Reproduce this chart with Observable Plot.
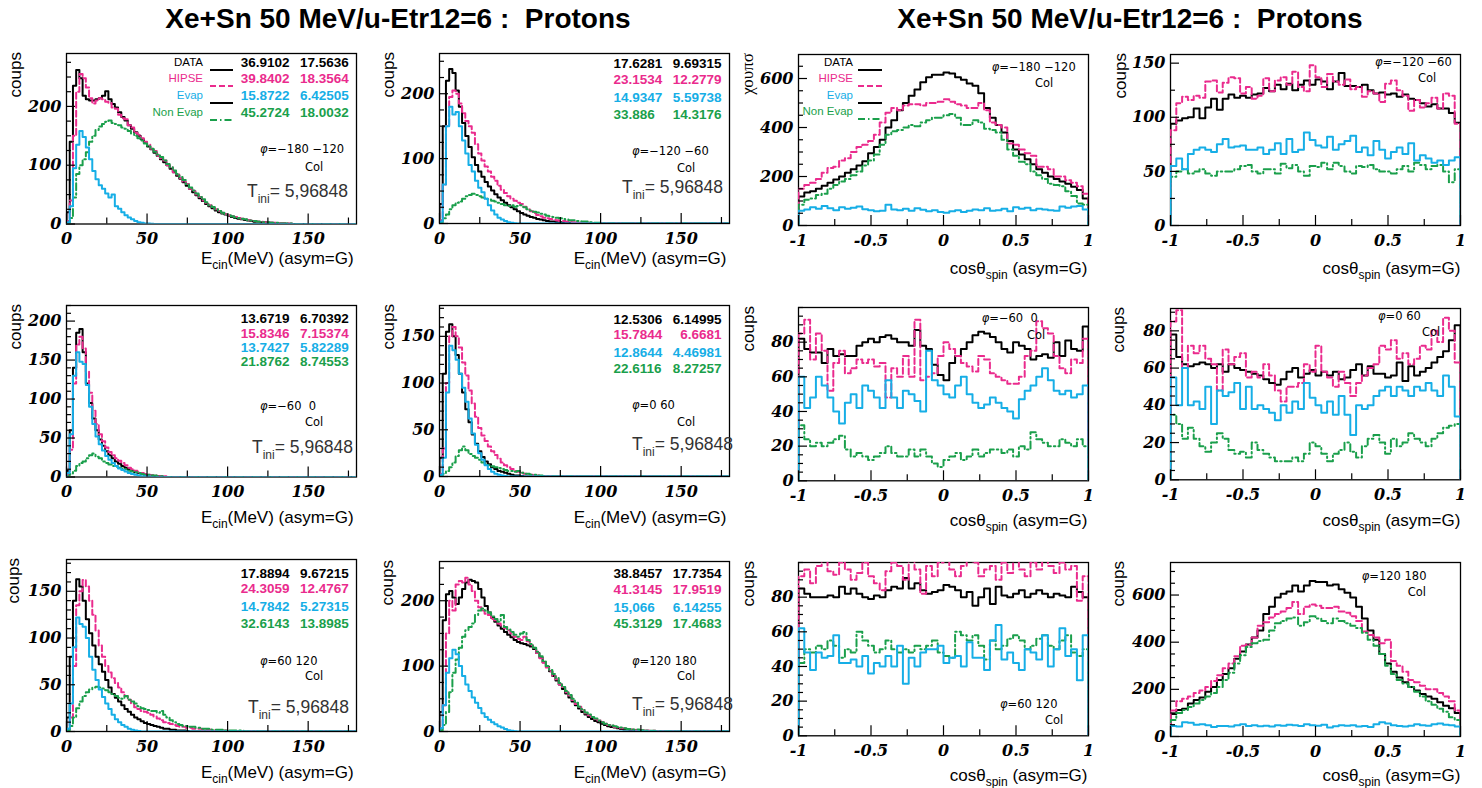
<!DOCTYPE html>
<html><head><meta charset="utf-8">
<script src="https://cdn.jsdelivr.net/npm/d3@7"></script>
<script src="https://cdn.jsdelivr.net/npm/@observablehq/plot@0.6"></script>
<style>
body{margin:0;background:#fff;}
#page{position:relative;width:1482px;height:788px;overflow:hidden;background:#fff;}
.abs{position:absolute;white-space:pre;line-height:1;}
svg{overflow:visible;}
</style></head><body><div id="page"></div>
<script>
// ---------------- DATA ----------------
const titleText = "Xe+Sn 50 MeV/u-Etr12=6 :  Protons";
const seriesNames = ["DATA", "HIPSE", "Evap", "Non Evap"];
const phiLabels = ["−180 −120", "−120 −60", "−60  0", "0 60", "60 120", "120 180"];
const tiniValue = "5,96848";
const energyTickLabels = [0, 50, 100, 150];
const cosTickLabels = [-1, -0.5, 0, 0.5, 1];
const eBinWidth = 2, eBinCount = 90;      // MeV bins 0..180
const cosBinWidth = 0.04, cosBinCount = 50; // -1..1

// Energy spectra (2 MeV bins starting at 0)
const p1Data = [20,140,235,262,248,218,212,210,210,212,214,218,226,212,204,198,190,182,176,168,162,156,150,144,138,132,127,121,116,110,105,100,94,88,82,77,71,65,60,54,49,44,39,34,30,27,23,20,18,16,14,12,10,9,8,7,6,5,4,4,3,3,2,2,1,1,1,1,0.5,0.5];
const p1Hipse = [5,40,150,225,255,248,232,214,205,210,214,212,208,206,198,196,186,180,178,168,164,155,152,146,140,135,128,124,116,112,108,100,96,88,84,78,72,68,60,56,50,46,40,36,32,28,25,22,19,17,15,13,12,10,9,8,7,6,5,4,4,3,3,2,2,1,1,1,1,0.5];
const p1Evap = [3,30,95,135,158,148,130,110,90,76,66,60,52,45,50,30,26,20,15,11,8,5,3,2,1,1,0.5];
const p1NonEvap = [1,10,45,85,100,110,122,140,150,160,166,170,174,176,172,170,168,164,162,158,154,150,146,142,137,133,128,123,118,114,108,102,97,91,85,80,75,68,62,57,52,46,42,37,32,29,25,22,19,17,15,13,11,10,9,8,7,6,5,4,4,3,3,2,2,2,1,1,1,1];

const p2Data = [30,150,220,238,232,205,180,155,135,118,102,90,80,72,64,57,51,45,40,36,32,28,25,22,19,16,14,12,10,9,7,6,5,4,3,3,2,2,1,1,1,0.5];
const p2Hipse = [5,60,150,195,205,200,185,170,158,150,140,122,108,97,88,80,72,66,58,52,47,42,38,35,32,30,26,22,19,16,13,11,9,8,7,6,5,4,4,3,3,2,2,1,1,1,1,0.5];
const p2Evap = [3,60,150,180,168,172,150,128,108,90,80,66,55,48,38,28,20,14,9,6,4,2,1,0.5];
const p2NonEvap = [2,8,14,22,28,32,34,38,42,44,46,44,42,40,38,37,35,34,32,30,28,27,28,26,27,28,25,22,20,18,17,15,14,12,11,10,9,8,7,6,5,5,4,4,3,3,2,2,1,1];

const p5Data = [8,60,140,185,190,160,120,95,75,60,48,40,33,28,24,20,17,14,12,10,8,6,5,4,3,2,2,1,1,0.5];
const p5Hipse = [3,35,120,170,180,165,135,108,85,68,55,46,38,32,28,24,21,18,15,12,10,8,6,5,4,3,2,2,1,1,1];
const p5Evap = [5,55,130,160,148,145,118,90,68,52,42,34,27,22,18,14,11,9,7,5,4,3,2,1,1,0.5];
const p5NonEvap = [1,4,8,14,18,20,24,28,30,26,24,20,18,16,14,13,12,11,10,8,7,6,5,4,3,3,2,2,1,1];

const p6Data = [20,110,155,163,150,130,110,90,72,58,45,35,27,21,16,13,10,8,6,5,4,3,2,1,1,0.5];
const p6Hipse = [3,30,100,150,160,150,138,122,108,92,78,64,52,44,38,32,27,23,19,15,12,10,8,6,5,4,3,2,2,1,1];
const p6Evap = [2,20,90,140,135,125,110,95,80,62,46,34,25,18,12,8,5,3,2,1,0.5];
const p6NonEvap = [1,3,6,10,15,22,28,32,28,24,22,20,18,15,13,12,11,10,9,8,7,6,6,5,6,4,3,3,2,2,1,1];

const p9Data = [15,80,140,163,155,140,120,105,92,80,72,64,55,47,40,36,32,28,24,21,18,15,13,11,9,8,7,6,5,4,3,3,2,2,1,1,1,0.5];
const p9Hipse = [2,15,70,135,150,162,155,140,125,108,92,80,70,63,57,52,47,42,38,34,30,26,24,22,21,20,18,16,14,12,10,9,8,7,6,5,5,4,4,3,3,3,2,2,2,1,1,1,1,1];
const p9Evap = [3,30,90,122,115,112,100,80,66,55,45,37,30,24,18,13,10,7,5,3,2,1,0.5];
const p9NonEvap = [1,6,15,25,32,38,42,45,47,48,47,46,44,42,40,38,36,35,38,34,32,30,27,25,24,23,22,22,20,22,18,15,12,10,8,7,6,6,5,5,4,4,3,3,3,2,2,2,2,1,1,1,1,1,1];

const p10Data = [30,170,210,215,205,195,205,218,228,232,230,228,218,205,192,182,174,168,162,157,152,148,144,140,137,135,134,132,130,126,120,113,106,99,92,85,78,72,65,58,52,46,40,35,30,26,22,19,16,14,12,10,8,7,6,5,4,3,3,2,2,1,1,1,1,0.5];
const p10Hipse = [5,40,150,200,185,225,230,228,235,225,215,200,190,185,180,178,172,170,165,162,158,155,150,145,142,140,145,138,132,128,120,112,105,98,92,85,80,72,68,60,55,48,42,38,33,28,25,22,19,17,14,12,10,9,7,6,5,5,4,3,3,2,2,1,1,1,1];
const p10Evap = [5,40,90,112,125,118,100,85,72,62,52,44,36,28,22,18,14,11,8,6,4,2,1,0.5];
const p10NonEvap = [2,10,30,60,90,110,128,145,155,160,165,178,185,188,185,182,176,172,168,178,160,156,152,148,145,150,152,140,134,128,122,115,108,100,94,88,82,74,68,62,56,50,44,38,34,29,26,22,20,17,14,12,10,9,8,7,6,5,4,4,3,3,2,2,1,1,1];

// cos(theta_spin) spectra (50 bins of 0.04 from -1)
const p3Data = [118,135,140,150,162,175,188,200,215,230,245,262,295,320,350,400,430,470,500,530,555,585,605,615,615,625,620,605,595,580,570,540,480,440,410,380,345,310,290,270,250,230,215,200,190,180,170,158,145,110];
const p3Hipse = [150,165,175,190,215,235,240,265,275,300,320,330,345,370,420,460,480,470,490,495,495,490,500,500,505,515,505,495,490,480,480,500,470,420,410,400,335,330,310,295,285,240,240,230,200,200,185,175,160,130];
const p3Evap = [60,65,75,68,80,70,62,75,68,72,78,66,62,58,60,85,65,62,68,60,70,64,58,62,55,52,58,62,55,60,65,62,70,60,62,68,58,75,68,72,62,68,65,62,60,78,72,78,80,65];
const p3NonEvap = [85,105,110,125,130,150,165,180,190,205,220,245,265,290,330,370,385,390,400,410,405,420,430,440,440,450,455,440,410,410,430,420,395,390,380,350,310,285,260,250,220,205,190,170,165,160,140,120,90,85];

const p4Data = [94,97,99,100,108,99,109,117,107,117,121,118,120,118,121,122,127,124,130,126,131,125,130,134,130,135,133,126,133,141,129,129,128,130,125,122,123,121,122,119,121,117,116,113,110,112,108,108,104,95];
const p4Hipse = [88,113,119,116,120,118,133,134,123,132,137,136,122,128,117,120,136,124,134,137,130,142,128,124,148,137,128,140,133,130,135,126,128,119,124,122,114,131,134,125,120,106,116,109,113,118,108,122,120,94];
const p4Evap = [55,62,52,66,70,72,70,68,75,80,72,73,74,70,70,72,66,70,76,66,80,68,70,86,79,74,72,82,70,75,78,83,68,72,65,78,70,62,68,72,66,76,60,65,62,58,60,56,60,63];
const p4NonEvap = [45,50,52,48,50,52,48,46,50,50,50,52,55,56,50,48,52,52,48,57,53,56,50,46,55,54,58,52,58,55,50,48,55,54,56,52,50,50,48,52,55,50,58,56,52,55,56,50,40,52];

const p7Data = [82,76,74,74,68,76,72,73,72,72,78,80,82,80,83,84,82,80,80,78,87,78,76,67,61,58,68,72,76,80,84,86,85,83,80,76,74,80,78,76,70,72,73,71,80,72,81,76,75,89];
const p7Hipse = [85,93,70,85,75,52,68,75,62,65,70,68,70,66,68,48,65,60,72,60,93,58,60,62,72,80,76,72,68,66,63,72,70,62,60,58,56,56,60,72,75,92,88,85,72,65,62,70,68,82];
const p7Evap = [60,42,48,60,55,48,40,33,45,50,42,55,52,48,42,58,48,42,52,50,46,40,75,58,55,50,48,55,60,50,45,42,44,48,45,42,40,36,47,52,55,60,65,58,52,50,52,48,50,55];
const p7NonEvap = [32,24,20,22,20,22,24,26,18,14,16,14,12,14,16,20,16,14,14,18,14,18,14,10,8,12,14,16,12,14,18,14,16,18,18,16,18,14,20,18,28,24,22,20,20,24,22,20,24,20];

const p8Data = [78,66,62,61,62,63,62,60,62,58,62,60,59,58,57,56,54,52,51,54,58,60,55,57,59,56,58,56,58,54,55,59,62,56,61,57,57,55,56,63,53,61,56,58,60,63,66,69,75,83];
const p8Hipse = [85,91,60,72,68,72,65,62,48,70,62,66,68,55,58,55,62,56,48,42,50,50,52,62,58,72,58,55,50,58,52,45,52,56,60,62,72,70,75,65,68,62,65,72,70,80,74,87,80,63];
const p8Evap = [55,40,60,40,42,38,50,30,48,45,47,52,38,50,38,40,38,36,32,40,36,42,38,52,44,40,36,42,35,45,35,24,40,38,40,45,48,50,45,50,48,45,50,48,52,48,45,56,50,34];
const p8NonEvap = [35,30,22,28,22,18,15,20,25,22,16,14,15,12,20,16,14,12,10,10,10,12,10,14,20,18,14,10,14,16,20,15,12,18,22,24,20,14,22,18,20,25,22,20,18,22,25,28,29,30];

const p11Data = [85,82,80,80,80,81,80,86,82,85,82,80,79,81,80,84,86,85,91,85,88,84,82,83,84,87,86,84,80,83,75,80,85,76,86,81,80,82,84,80,82,84,82,80,82,81,80,86,83,80];
const p11Hipse = [92,96,88,98,102,95,93,100,96,90,94,100,92,88,84,95,100,98,90,103,96,82,98,92,100,104,96,92,98,102,100,92,96,98,90,100,94,102,96,92,100,96,104,98,94,100,96,98,78,92];
const p11Evap = [62,48,38,48,45,46,58,42,42,44,40,46,36,42,40,46,40,52,30,45,40,48,50,50,52,42,45,46,40,54,45,45,38,55,64,44,48,42,38,50,48,44,58,40,50,62,46,50,32,58];
const p11NonEvap = [42,50,48,52,50,55,52,45,50,48,60,55,52,48,50,55,50,48,50,48,52,50,52,55,48,46,45,60,58,55,58,52,44,55,50,52,56,58,55,50,52,56,58,52,50,55,58,48,46,50];

const p12Data = [95,112,118,140,155,165,190,210,240,265,290,330,360,390,420,450,520,550,590,605,615,640,615,640,660,655,655,640,645,625,610,590,550,500,450,410,350,310,275,250,230,210,195,180,170,160,145,130,120,100];
const p12Hipse = [110,150,160,170,185,195,210,235,260,290,310,340,385,390,420,470,485,505,520,530,545,570,520,550,560,555,545,545,550,530,525,510,490,445,430,420,395,410,320,300,275,240,230,215,200,200,185,170,150,110];
const p12Evap = [45,42,60,58,50,52,48,40,45,45,42,48,52,45,48,44,46,42,48,46,50,48,45,52,48,46,50,38,44,48,46,48,42,45,40,52,60,55,48,45,42,46,52,48,46,52,55,50,48,42];
const p12NonEvap = [70,100,112,125,140,155,170,185,210,240,270,310,345,380,395,405,410,450,480,490,500,505,470,485,510,500,490,480,500,490,480,470,460,440,410,385,350,300,265,240,225,210,190,170,150,135,118,105,82,70];

// statistics printed in the energy panels (mean, rms) per series
const p1Stats = [["36.9102","17.5636"],["39.8402","18.3564"],["15.8722","6.42505"],["45.2724","18.0032"]];
const p2Stats = [["17.6281","9.69315"],["23.1534","12.2779"],["14.9347","5.59738"],["33.886","14.3176"]];
const p5Stats = [["13.6719","6.70392"],["15.8346","7.15374"],["13.7427","5.82289"],["21.8762","8.74553"]];
const p6Stats = [["12.5306","6.14995"],["15.7844","6.6681"],["12.8644","4.46981"],["22.6116","8.27257"]];
const p9Stats = [["17.8894","9.67215"],["24.3059","12.4767"],["14.7842","5.27315"],["32.6143","13.8985"]];
const p10Stats = [["38.8457","17.7354"],["41.3145","17.9519"],["15,066","6.14255"],["45.3129","17.4683"]];

// y-axis labelled ticks per panel
const yTicks1 = [0,100,200], yTicks2 = [0,100,200], yTicks3 = [0,200,400,600], yTicks4 = [0,50,100,150];
const yTicks5 = [0,50,100,150,200], yTicks6 = [0,50,100,150], yTicks7 = [0,20,40,60,80], yTicks8 = [0,20,40,60,80];
const yTicks9 = [0,50,100,150], yTicks10 = [0,100,200], yTicks11 = [0,20,40,60,80], yTicks12 = [0,200,400,600];

// ---------------- STYLE / LAYOUT ----------------
const seriesStyles = [
  {color:"#000000", dash:null},
  {color:"#ea2b8d", dash:"6,3"},
  {color:"#16aee6", dash:null},
  {color:"#1a9f4b", dash:"7,3,1.5,3"}
];
const drawOrder = [0, 1, 3, 2];
const SANS = '"Liberation Sans", Arial, Helvetica, sans-serif';
const VERA = '"DejaVu Sans", sans-serif';
const TICKFONT = '"DejaVu Serif", serif';

const L = [65.7, 438.5, 797.5, 1170.3];
const panels = [
  {kind:"E", left:L[0], top:52.5, bottom:223, ymax:290, yT:yTicks1, yMinor:25, series:[p1Data,p1Hipse,p1Evap,p1NonEvap], stats:p1Stats, rows:[63.3,79.3,96,112.7], phi:[260,150], col:[305,167.7], tini:[247,191.7], ylab:"coups", ylx:15, xty:258, legend:{right:203, s0:210, s1:233}},
  {kind:"E", left:L[1], top:53, bottom:223, ymax:262, yT:yTicks2, yMinor:25, series:[p2Data,p2Hipse,p2Evap,p2NonEvap], stats:p2Stats, rows:[64,80,98,115], phi:[632,151.5], col:[677,168.5], tini:[622,188], ylab:"coups", ylx:388, xty:258},
  {kind:"C", left:L[2], top:54, bottom:225, ymax:698, yT:yTicks3, yMinor:50, series:[p3Data,p3Hipse,p3Evap,p3NonEvap], phi:[991.7,68.3], col:[1035,84], ylab:"χουπσ", ylx:747, xty:268, legend:{right:853, s0:858, s1:882, rows:[63.3,79.3,96,111.7]}},
  {kind:"C", left:L[3], top:54, bottom:225, ymax:158, yT:yTicks4, yMinor:25, series:[p4Data,p4Hipse,p4Evap,p4NonEvap], phi:[1375,63.3], col:[1418,79.3], ylab:"coups", ylx:1120, xty:268},
  {kind:"E", left:L[0], top:304.5, bottom:476, ymax:220, yT:yTicks5, yMinor:10, series:[p5Data,p5Hipse,p5Evap,p5NonEvap], stats:p5Stats, rows:[319,334,348,362], phi:[260,406.7], col:[305,422.7], tini:[252,448], ylab:"coups", ylx:15, xty:516.7},
  {kind:"E", left:L[1], top:305, bottom:476, ymax:183, yT:yTicks6, yMinor:10, series:[p6Data,p6Hipse,p6Evap,p6NonEvap], stats:p6Stats, rows:[320,335,352.7,369], phi:[632,406], col:[677,422.7], tini:[632,445], ylab:"coups", ylx:388, xty:516.7},
  {kind:"C", left:L[2], top:306.7, bottom:480, ymax:100, yT:yTicks7, yMinor:5, series:[p7Data,p7Hipse,p7Evap,p7NonEvap], phi:[981.7,319.3], col:[1027,335.7], ylab:"coups", ylx:748, xty:520},
  {kind:"C", left:L[3], top:308, bottom:479.3, ymax:92, yT:yTicks8, yMinor:5, series:[p8Data,p8Hipse,p8Evap,p8NonEvap], phi:[1378,316.7], col:[1422,333.3], ylab:"coups", ylx:1118, xty:520},
  {kind:"E", left:L[0], top:559, bottom:731, ymax:184, yT:yTicks9, yMinor:10, series:[p9Data,p9Hipse,p9Evap,p9NonEvap], stats:p9Stats, rows:[574.3,589,606.7,624.3], phi:[260,661.7], col:[305,676.7], tini:[248,708], ylab:"coups", ylx:13, xty:771.7},
  {kind:"E", left:L[1], top:561, bottom:731, ymax:260, yT:yTicks10, yMinor:25, series:[p10Data,p10Hipse,p10Evap,p10NonEvap], stats:p10Stats, rows:[574.3,590,607.7,624], phi:[632,661.7], col:[677,676.7], tini:[632,705], ylab:"coups", ylx:387, xty:771.7},
  {kind:"C", left:L[2], top:561.7, bottom:735, ymax:100, yT:yTicks11, yMinor:5, series:[p11Data,p11Hipse,p11Evap,p11NonEvap], phi:[1000,705], col:[1045,720.7], ylab:"coups", ylx:748, xty:775},
  {kind:"C", left:L[3], top:561.7, bottom:735.7, ymax:738, yT:yTicks12, yMinor:50, series:[p12Data,p12Hipse,p12Evap,p12NonEvap], phi:[1361.7,576.7], col:[1407.7,593.3], ylab:"coups", ylx:1118, xty:775}
];
const phiIndexOfPanel = [0,1,0,1,2,3,2,3,4,5,4,5];

const page = document.getElementById("page");

function addText(html, x, y, o = {}) {
  const d = document.createElement("div");
  d.className = "abs";
  d.innerHTML = html;
  Object.assign(d.style, {
    left: x + "px", top: y + "px",
    fontSize: (o.size || 12) + "px",
    fontFamily: o.family || SANS,
    fontWeight: o.weight || "normal",
    fontStyle: o.style || "normal",
    color: o.color || "#000",
    transformOrigin: "0 0"
  });
  const a = o.anchor || "start";
  const tx = a === "start" ? "0" : a === "end" ? "-100%" : "-50%";
  d.style.transform = o.rotate ? "rotate(-90deg) translate(-100%,-50%)" : `translate(${tx},-50%)`;
  page.appendChild(d);
  return d;
}

function histPoints(vals, x0, w, n) {
  const pts = [{x: x0, y: 0}];
  for (let i = 0; i < n; i++) pts.push({x: x0 + i * w, y: i < vals.length ? vals[i] : 0});
  const last = n - 1 < vals.length ? vals[n - 1] : 0;
  pts.push({x: x0 + n * w, y: last});
  pts.push({x: x0 + n * w, y: 0});
  return pts;
}

function minorTicks(step, lo, hi, majors) {
  return d3.range(lo, hi + 1e-9, step).map(v => +v.toFixed(6)).filter(v => !majors.some(m => Math.abs(m - v) < 1e-9));
}

function buildPanel(p, idx) {
  const W = 290, H = p.bottom - p.top;
  const ml = 60, mr = 8, mt = 8, mb = 32;
  const isE = p.kind === "E";
  const x0 = isE ? 0 : -1;
  const bw = isE ? eBinWidth : cosBinWidth;
  const nb = isE ? eBinCount : cosBinCount;
  const xDomain = isE ? [0, 180] : [-1, 1];
  const xMaj = isE ? energyTickLabels : cosTickLabels;
  const xMin = isE ? [25, 75, 125, 175] : [-0.75, -0.25, 0.25, 0.75];
  const yMin = minorTicks(p.yMinor, 0, p.ymax, p.yT);

  const marks = [Plot.frame({stroke: "#000", strokeWidth: 1.3})];
  for (const k of drawOrder) {
    marks.push(Plot.line(histPoints(p.series[k], x0, bw, nb), {
      x: "x", y: "y", curve: "step-after",
      stroke: seriesStyles[k].color, strokeWidth: 2,
      strokeDasharray: seriesStyles[k].dash, clip: true
    }));
  }
  marks.push(
    Plot.tickX(xMaj, {x: d => d, insetTop: H - 10, stroke: "#000", strokeWidth: 1.2}),
    Plot.tickX(xMin, {x: d => d, insetTop: H - 6, stroke: "#000", strokeWidth: 1.2}),
    Plot.tickY(p.yT, {y: d => d, insetRight: W - 9, stroke: "#000", strokeWidth: 1.2}),
    Plot.tickY(yMin, {y: d => d, insetRight: W - 5, stroke: "#000", strokeWidth: 1.2}),
    Plot.axisX({ticks: xMaj, tickSize: 0, tickPadding: 9, label: null, tickFormat: d => String(d)}),
    Plot.axisY({ticks: p.yT, tickSize: 0, tickPadding: 5, label: null, tickFormat: d => String(d)})
  );
  const svg = Plot.plot({
    width: W + ml + mr, height: H + mt + mb,
    marginLeft: ml, marginRight: mr, marginTop: mt, marginBottom: mb,
    x: {domain: xDomain}, y: {domain: [0, p.ymax]},
    style: {background: "transparent", fontFamily: TICKFONT, fontSize: "16px", fontWeight: "bold", fontStyle: "italic", color: "#000", overflow: "visible"},
    marks
  });
  svg.style.position = "absolute";
  svg.style.left = (p.left - ml) + "px";
  svg.style.top = (p.top - mt) + "px";
  page.appendChild(svg);

  const right = p.left + W;
  // axis titles
  if (isE) {
    addText('E<span style="font-size:12px;position:relative;top:5px">cin</span>(MeV) (asym=G)', right - 2, p.xty, {anchor: "end", size: 17});
  } else {
    addText('cosθ<span style="font-size:12px;position:relative;top:5px">spin</span> (asym=G)', right, p.xty, {anchor: "end", size: 17});
  }
  addText(p.ylab, p.ylx, p.top - 1, {rotate: true, size: 17, family: p.ylab === "coups" ? SANS : '"Liberation Serif", serif'});

  // phi / Col annotations
  addText('<i>φ</i>=' + phiLabels[phiIndexOfPanel[idx]], p.phi[0], p.phi[1], {size: 11.5, family: VERA});
  addText("Col", p.col[0], p.col[1], {size: 11.5, family: VERA});
  if (p.tini) {
    addText('T<span style="font-size:12px;position:relative;top:6px">ini</span>= ' + tiniValue, p.tini[0], p.tini[1], {size: 17.5, color: "#333"});
  }
  // statistics
  if (p.stats) {
    p.stats.forEach((s, i) => {
      addText(s[0], p.left + 175, p.rows[i], {size: 13.5, weight: "bold", color: seriesStyles[i].color});
      addText(s[1], p.left + 283, p.rows[i], {size: 13.5, weight: "bold", color: seriesStyles[i].color, anchor: "end"});
    });
  }
  // legend
  if (p.legend) {
    const rows = p.legend.rows || p.rows;
    const sampleStyles = [seriesStyles[0], seriesStyles[1], {color: "#000", dash: null}, seriesStyles[3]];
    seriesNames.forEach((nm, i) => {
      addText(nm, p.legend.right, rows[i], {size: 11.5, anchor: "end", color: seriesStyles[i].color});
      const s = sampleStyles[i];
      const w = p.legend.s1 - p.legend.s0;
      const d = document.createElement("div");
      d.className = "abs";
      d.style.left = p.legend.s0 + "px";
      d.style.top = (rows[i] - 3) + "px";
      d.innerHTML = `<svg width="${w}" height="6"><line x1="0" y1="3" x2="${w}" y2="3" stroke="${s.color}" stroke-width="2" ${s.dash ? `stroke-dasharray="${s.dash}"` : ""}/></svg>`;
      page.appendChild(d);
    });
  }
}

panels.forEach(buildPanel);

// titles
addText(titleText, 398, 19, {anchor: "middle", size: 28, weight: "bold"});
addText(titleText, 1130, 19, {anchor: "middle", size: 28, weight: "bold"});
</script></body></html>
